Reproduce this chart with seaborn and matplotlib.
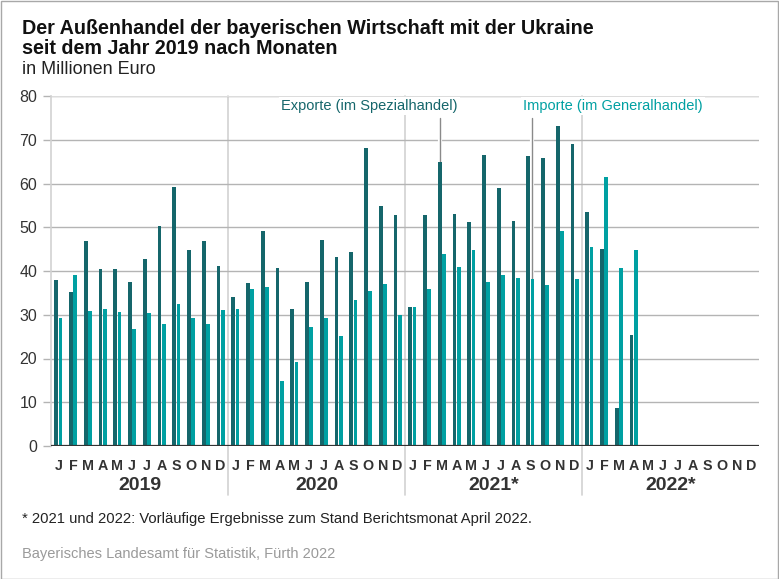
import matplotlib
matplotlib.use("Agg")
import matplotlib.pyplot as plt
import matplotlib.patheffects as pe
import matplotlib.transforms as mtransforms
import seaborn as sns
import pandas as pd
import numpy as np

years = ["2019", "2020", "2021*", "2022*"]
month_letters = ["J", "F", "M", "A", "M", "J", "J", "A", "S", "O", "N", "D"]

exports = [37.9, 35.3, 46.8, 40.5, 40.4, 37.6, 42.8, 50.3, 59.1, 44.7, 46.8, 41.2,
           34.0, 37.2, 49.2, 40.8, 31.4, 37.4, 47.0, 43.3, 44.3, 68.2, 54.8, 52.7,
           31.8, 52.7, 64.9, 53.1, 51.1, 66.5, 58.9, 51.4, 66.4, 65.8, 73.1, 69.0,
           53.5, 45.0, 8.6, 25.3]
imports = [29.3, 39.0, 30.8, 31.4, 30.6, 26.7, 30.5, 27.8, 32.4, 29.3, 27.9, 31.0,
           31.3, 36.0, 36.4, 14.9, 19.1, 27.1, 29.3, 25.1, 33.3, 35.4, 37.0, 29.9,
           31.8, 36.0, 43.9, 41.0, 44.7, 37.5, 39.0, 38.3, 38.1, 36.7, 49.1, 38.2,
           45.4, 61.5, 40.6, 44.7]

series_names = ["Exporte (im Spezialhandel)", "Importe (im Generalhandel)"]
colors = ["#15666b", "#00a0a2"]

month_keys = [f"{y[:4]}-{m:02d}" for y in years for m in range(1, 13)]
df = pd.concat([
    pd.DataFrame({"Monat": month_keys[:len(exports)], "Wert": exports, "Reihe": series_names[0]}),
    pd.DataFrame({"Monat": month_keys[:len(imports)], "Wert": imports, "Reihe": series_names[1]}),
])

sns.set_theme(style="white")
plt.rcParams["font.family"] = ["Liberation Sans", "DejaVu Sans"]

W, H = 779, 579
fig = plt.figure(figsize=(W / 100, H / 100), dpi=100)
ax = fig.add_axes([51 / W, 1 - 446 / H, (759 - 51) / W, (446 - 96) / H])

sns.barplot(data=df, x="Monat", y="Wert", hue="Reihe", order=month_keys,
            hue_order=series_names, palette=colors, width=0.57, gap=0.12,
            saturation=1, legend=False, ax=ax, zorder=3,
            linewidth=0, edgecolor="none")

ax.set_xlim(-0.5, len(month_keys) - 0.5)
ax.set_ylim(0, 80)
ax.set_yticks(range(0, 81, 10))
ax.set_yticklabels([str(v) for v in range(0, 81, 10)], fontsize=11.5, color="#333333")
ax.yaxis.grid(True, color="#b4b4b4", linewidth=1)
ax.set_axisbelow(True)
ax.tick_params(axis="y", length=6, width=1, color="#b4b4b4", pad=4, left=True)
ax.set_xlabel("")
ax.set_ylabel("")
for s in ["top", "right", "bottom"]:
    ax.spines[s].set_visible(False)
ax.spines["left"].set_color("#d2d2d2")
ax.spines["left"].set_linewidth(1.2)
ax.axhline(0, color="#333333", linewidth=1.6, zorder=5)
ax.axhline(80, color="#dcdcdc", linewidth=1.6, zorder=1)

# month labels
ax.set_xticks(range(len(month_keys)))
ax.set_xticklabels(month_letters * len(years), fontsize=10.3, fontweight="bold", color="#333333")
ax.tick_params(axis="x", length=0, pad=9)

trans = mtransforms.blended_transform_factory(ax.transData, ax.transAxes)
for i, y in enumerate(years):
    ax.text(i * 12 + 5.5, -0.126, y, transform=trans, ha="center", va="baseline",
            fontsize=14, fontweight="bold", color="#333333")
    if i > 0:
        ax.plot([i * 12 - 0.5] * 2, [-0.14, 1.0], transform=trans, color="#d2d2d2",
                linewidth=1.2, clip_on=False, zorder=0.5)

# series labels with leader lines
bx = ax.containers[0][26]
ex_x = bx.get_x() + bx.get_width() / 2
bi = ax.containers[1][32]
im_x = bi.get_x() + bi.get_width() / 2
halo = [pe.withStroke(linewidth=3, foreground="white")]
ax.plot([ex_x, ex_x], [bx.get_height(), 75], color="#8a8a8a", linewidth=1,
        zorder=2.5, path_effects=halo)
ax.plot([im_x, im_x], [bi.get_height(), 75], color="#8a8a8a", linewidth=1,
        zorder=2.5, path_effects=halo)
bbox = dict(facecolor="white", edgecolor="none", pad=1.5)
ax.text(21.1, 77.7, series_names[0], ha="center", va="center", fontsize=10.5,
        color=colors[0], bbox=bbox, zorder=4)
ax.text(37.6, 77.7, series_names[1], ha="center", va="center", fontsize=10.5,
        color=colors[1], bbox=bbox, zorder=4)

# titles
fig.text(22 / W, 1 - 34.5 / H, "Der Außenhandel der bayerischen Wirtschaft mit der Ukraine",
         fontsize=14.2, fontweight="bold", color="#111111", va="baseline")
fig.text(22 / W, 1 - 54 / H, "seit dem Jahr 2019 nach Monaten",
         fontsize=14.2, fontweight="bold", color="#111111", va="baseline")
fig.text(22 / W, 1 - 73.5 / H, "in Millionen Euro", fontsize=13, color="#222222", va="baseline")

fig.text(22 / W, 1 - 523.5 / H,
         "* 2021 und 2022: Vorläufige Ergebnisse zum Stand Berichtsmonat April 2022.",
         fontsize=10.6, color="#222222", va="baseline")
fig.text(22 / W, 1 - 558 / H, "Bayerisches Landesamt für Statistik, Fürth 2022",
         fontsize=10.5, color="#9a9a9a", va="baseline")

fig.patches.append(plt.Rectangle((0.5 / W, 0.5 / H), 1 - 1.5 / W, 1 - 1.5 / H,
                                 transform=fig.transFigure, fill=False,
                                 edgecolor="#a8a8a8", linewidth=1))

fig.savefig("out.png", dpi=100)
